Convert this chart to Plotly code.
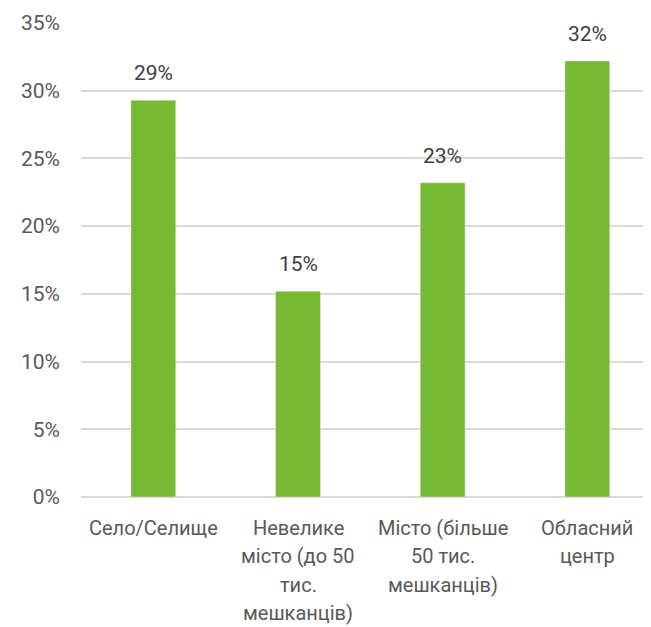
import plotly.graph_objects as go

categories = ["Село/Селище", "Невелике місто (до 50 тис. мешканців)",
              "Місто (більше 50 тис. мешканців)", "Обласний центр"]
category_lines = [
    ["Село/Селище"],
    ["Невелике", "місто (до 50", "тис.", "мешканців)"],
    ["Місто (більше", "50 тис.", "мешканців)"],
    ["Обласний", "центр"],
]
values = [29.3, 15.2, 23.2, 32.2]
y_ticks = [0, 5, 10, 15, 20, 25, 30, 35]
y_tick_labels = [f"{t}%" for t in y_ticks]

FONT = "Roboto, 'Noto Sans', sans-serif"
x_idx = list(range(len(categories)))

fig = go.Figure(go.Bar(
    x=x_idx, y=values, marker_color="#77B932", width=0.31,
    hoverinfo="skip",
))

annotations = []
for i, v in enumerate(values):
    annotations.append(dict(
        x=i, y=v, xref="x", yref="y", text=f"{round(v)}%", showarrow=False,
        yanchor="bottom", yshift=13, font=dict(family=FONT, size=21, color="#404040"),
    ))
for i, lines in enumerate(category_lines):
    for j, line in enumerate(lines):
        annotations.append(dict(
            x=i, y=0, xref="x", yref="paper", text=line, showarrow=False,
            yanchor="middle", yshift=-30.5 - 28.5 * j, borderpad=0,
            font=dict(family=FONT, size=20, color="#595959"),
        ))

fig.update_layout(
    width=643, height=619,
    margin=dict(l=73, r=0, t=15, b=130),
    plot_bgcolor="white", paper_bgcolor="white",
    showlegend=False,
    xaxis=dict(range=[-0.5, 3.44], showticklabels=False, showgrid=False,
               zeroline=False, showline=False, fixedrange=True),
    yaxis=dict(range=[0, 35], tickvals=y_ticks, ticktext=y_tick_labels,
               showgrid=True, gridcolor="#D9D9D9", gridwidth=1.5,
               zeroline=True, zerolinecolor="#D9D9D9", zerolinewidth=1.5,
               showline=False, ticks="", ticklabelstandoff=20,
               tickfont=dict(family=FONT, size=21, color="#595959"),
               fixedrange=True),
    annotations=annotations,
)

fig.write_html("out.html")
